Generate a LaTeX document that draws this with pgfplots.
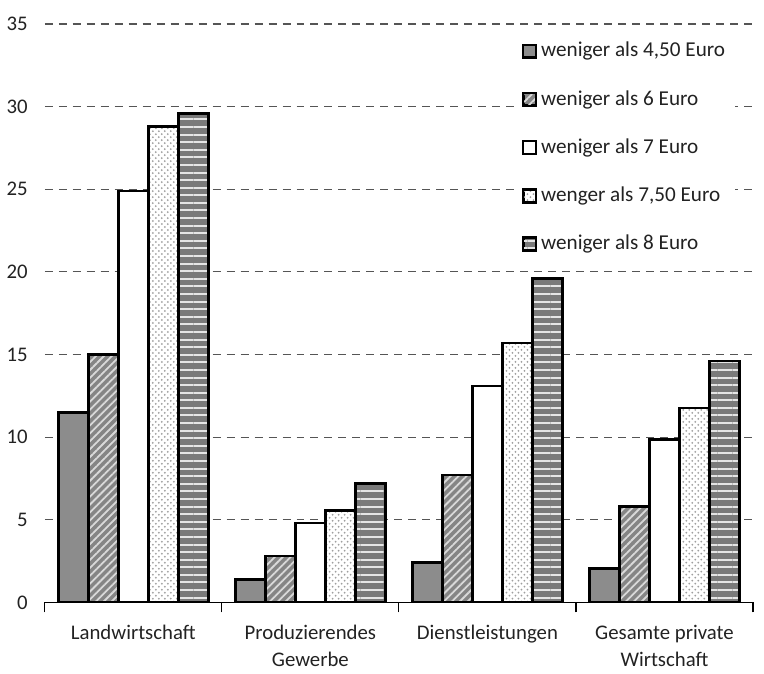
\documentclass[border=0pt]{standalone}
\usepackage{fontspec}
\setmainfont{Carlito}
\usepackage{pgfplots}
\pgfplotsset{compat=1.18}
\usetikzlibrary{patterns,patterns.meta}

\definecolor{txt}{HTML}{222222}
\definecolor{gridc}{HTML}{555555}
\definecolor{barA}{HTML}{8C8C8C}
\definecolor{barB}{HTML}{858585}
\definecolor{barE}{HTML}{7A7A7A}

\begin{document}
\begin{tikzpicture}
\begin{axis}[
    name=ax,
    scale only axis,
    width=354.5pt, height=289.5pt,
    xmin=-0.5, xmax=3.5,
    ymin=0, ymax=35,
    ybar=0pt, bar width=15pt,
    axis x line*=bottom,
    axis y line*=left,
    x axis line style={-, line width=0.6pt},
    y axis line style={draw=none},
    xtick={0,1,2,3},
    xticklabels={Landwirtschaft, Produzierendes\\Gewerbe, Dienstleistungen, Gesamte private\\Wirtschaft},
    xticklabel style={align=center, text=txt, yshift=-8pt},
    minor xtick={-0.5,0.5,1.5,2.5,3.5},
    major tick length=0pt,
    minor tick length=5pt,
    tick align=outside,
    xtick style={line width=0.6pt, black},
    ytick={0,5,...,35},
    ytick style={draw=none},
    yticklabel style={text=txt, xshift=-5pt},
    ymajorgrids,
    grid style={gridc, dash pattern=on 4pt off 3pt, line width=0.6pt},
    /pgf/number format/assume math mode=true,
    tick label style={font=\fontsize{10.4}{13.5}\selectfont},
    legend style={at={(0.665,0.983)}, anchor=north west, draw=none, fill=white,
        font=\fontsize{10.6}{12}\selectfont, row sep=11.3pt, text=txt},
    legend cell align=left,
    legend image code/.code={\draw[#1, line width=1.1pt] (0pt,-3.2pt) rectangle (6.4pt,3.2pt);},
    every axis plot/.append style={draw=black, line width=1.3pt},
]
\addplot[fill=barA] coordinates {(0,11.5) (1,1.4) (2,2.4) (3,2.05)};
\addplot[preaction={fill=barB}, pattern={Lines[angle=45,distance=2.8pt,line width=0.9pt]}, pattern color=gray!30] coordinates {(0,15.0) (1,2.8) (2,7.7) (3,5.8)};
\addplot[fill=white] coordinates {(0,24.9) (1,4.8) (2,13.1) (3,9.85)};
\addplot[preaction={fill=white}, pattern=crosshatch dots, pattern color=gray!75] coordinates {(0,28.8) (1,5.55) (2,15.7) (3,11.75)};
\addplot[preaction={fill=barE}, pattern={Lines[angle=0,distance=3.8pt,line width=1pt]}, pattern color=gray!20] coordinates {(0,29.6) (1,7.2) (2,19.6) (3,14.6)};
\legend{{weniger als 4,50 Euro}, {weniger als 6 Euro}, {weniger als 7 Euro}, {wenger als 7,50 Euro}, {weniger als 8 Euro}}
\end{axis}
\path (ax.south east) -- ++(5.5pt,0);
\path (ax.north west) -- ++(0,12pt);
\end{tikzpicture}
\end{document}
